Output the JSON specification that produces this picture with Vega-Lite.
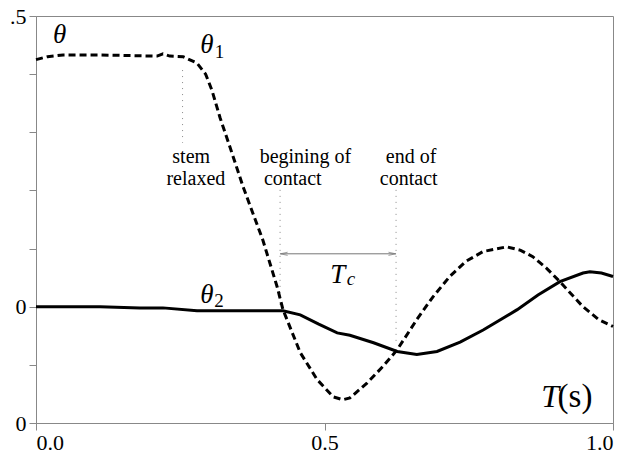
{
  "$schema": "https://vega.github.io/schema/vega-lite/v6.json",
  "width": 577,
  "height": 407,
  "autosize": {"type": "none"},
  "padding": {"left": 36, "top": 16, "right": 10, "bottom": 37},
  "background": "white",
  "config": {
    "font": "serif",
    "view": {"stroke": "#888", "strokeWidth": 1},
    "axis": {"grid": false, "domainColor": "#888", "tickColor": "#888", "labelFont": "serif", "labelFontSize": 22, "labelColor": "black", "title": null, "tickSize": 7}
  },
  "datasets": {
    "theta1": [
      {"t": 0.0, "v": 0.425}, {"t": 0.02, "v": 0.430}, {"t": 0.047, "v": 0.433}, {"t": 0.111, "v": 0.433},
      {"t": 0.16, "v": 0.432}, {"t": 0.21, "v": 0.431}, {"t": 0.22, "v": 0.435}, {"t": 0.232, "v": 0.431},
      {"t": 0.255, "v": 0.430}, {"t": 0.279, "v": 0.419}, {"t": 0.294, "v": 0.400}, {"t": 0.305, "v": 0.372},
      {"t": 0.319, "v": 0.325}, {"t": 0.336, "v": 0.275}, {"t": 0.359, "v": 0.206}, {"t": 0.393, "v": 0.115},
      {"t": 0.418, "v": 0.034}, {"t": 0.428, "v": -0.005}, {"t": 0.458, "v": -0.079}, {"t": 0.487, "v": -0.125},
      {"t": 0.515, "v": -0.155}, {"t": 0.532, "v": -0.160}, {"t": 0.544, "v": -0.157}, {"t": 0.574, "v": -0.131},
      {"t": 0.601, "v": -0.103}, {"t": 0.626, "v": -0.074}, {"t": 0.660, "v": -0.022}, {"t": 0.688, "v": 0.017},
      {"t": 0.717, "v": 0.052}, {"t": 0.745, "v": 0.078}, {"t": 0.775, "v": 0.095}, {"t": 0.816, "v": 0.103},
      {"t": 0.840, "v": 0.097}, {"t": 0.861, "v": 0.086}, {"t": 0.885, "v": 0.066}, {"t": 0.908, "v": 0.043},
      {"t": 0.948, "v": 0.0}, {"t": 0.975, "v": -0.022}, {"t": 1.0, "v": -0.034}
    ],
    "theta2": [
      {"t": 0.0, "v": 0.0}, {"t": 0.111, "v": 0.0}, {"t": 0.18, "v": -0.002}, {"t": 0.22, "v": -0.002},
      {"t": 0.279, "v": -0.007}, {"t": 0.428, "v": -0.007}, {"t": 0.458, "v": -0.014}, {"t": 0.49, "v": -0.030},
      {"t": 0.522, "v": -0.045}, {"t": 0.544, "v": -0.049}, {"t": 0.585, "v": -0.062}, {"t": 0.626, "v": -0.077},
      {"t": 0.660, "v": -0.082}, {"t": 0.695, "v": -0.077}, {"t": 0.735, "v": -0.061}, {"t": 0.775, "v": -0.040},
      {"t": 0.834, "v": -0.005}, {"t": 0.870, "v": 0.020}, {"t": 0.908, "v": 0.043}, {"t": 0.948, "v": 0.058},
      {"t": 0.960, "v": 0.060}, {"t": 0.980, "v": 0.058}, {"t": 1.0, "v": 0.052}
    ],
    "guides": [
      {"t": 0.254, "v1": 0.407, "v2": 0.282},
      {"t": 0.423, "v1": 0.201, "v2": -0.005},
      {"t": 0.624, "v1": 0.201, "v2": -0.065}
    ],
    "notes": [
      {"t": 0.269, "v": 0.247, "label": "stem"},
      {"t": 0.277, "v": 0.210, "label": "relaxed"},
      {"t": 0.467, "v": 0.247, "label": "begining of"},
      {"t": 0.445, "v": 0.210, "label": "contact"},
      {"t": 0.650, "v": 0.247, "label": "end of"},
      {"t": 0.646, "v": 0.210, "label": "contact"}
    ],
    "bigItalic": [
      {"t": 0.041, "v": 0.454, "label": "θ"},
      {"t": 0.296, "v": 0.436, "label": "θ"},
      {"t": 0.296, "v": 0.007, "label": "θ"},
      {"t": 0.523, "v": 0.041, "label": "T"}
    ],
    "subs": [
      {"t": 0.318, "v": 0.428, "label": "1"},
      {"t": 0.317, "v": 0.0, "label": "2"}
    ],
    "subItalic": [
      {"t": 0.546, "v": 0.038, "label": "c"}
    ],
    "axisT": [
      {"t": 0.891, "v": -0.172, "label": "T"}
    ],
    "axisS": [
      {"t": 0.904, "v": -0.172, "label": "(s)"}
    ],
    "arrow": [
      {"t1": 0.423, "t2": 0.624, "v": 0.091}
    ],
    "heads": [
      {"t": 0.430, "v": 0.091, "side": "L"},
      {"t": 0.617, "v": 0.091, "side": "R"}
    ]
  },
  "layer": [
    {
      "data": {"name": "guides"},
      "mark": {"type": "rule", "color": "#888", "strokeWidth": 1, "strokeDash": [1, 5]},
      "encoding": {
        "x": {"field": "t", "type": "quantitative", "scale": {"domain": [0, 1], "nice": false, "zero": false},
              "axis": {"values": [0, 0.5, 1], "format": ".1f", "labelPadding": 2}},
        "y": {"field": "v1", "type": "quantitative", "scale": {"domain": [-0.2, 0.5], "nice": false, "zero": false},
              "axis": {"values": [-0.2, -0.1, 0, 0.1, 0.2, 0.3, 0.4, 0.5], "labelExpr": "datum.value == 0.5 ? '.5' : (abs(datum.value) < 1e-9 ? '0' : (datum.value < -0.15 ? '0' : ''))", "labelPadding": 3}},
        "y2": {"field": "v2"}
      }
    },
    {
      "data": {"name": "arrow"},
      "mark": {"type": "rule", "color": "#777", "strokeWidth": 1},
      "encoding": {
        "x": {"field": "t1", "type": "quantitative"},
        "x2": {"field": "t2"},
        "y": {"field": "v", "type": "quantitative"}
      }
    },
    {
      "data": {"name": "heads"},
      "mark": {"type": "point", "filled": false, "stroke": "#777", "strokeWidth": 1, "size": 50},
      "encoding": {
        "x": {"field": "t", "type": "quantitative"},
        "y": {"field": "v", "type": "quantitative"},
        "shape": {"field": "side", "type": "nominal", "legend": null,
                  "scale": {"domain": ["L", "R"], "range": ["M1,-0.45L-1,0L1,0.45", "M-1,-0.45L1,0L-1,0.45"]}}
      }
    },
    {
      "data": {"name": "theta1"},
      "mark": {"type": "line", "color": "black", "strokeWidth": 3, "strokeDash": [7, 4]},
      "encoding": {
        "x": {"field": "t", "type": "quantitative"},
        "y": {"field": "v", "type": "quantitative"}
      }
    },
    {
      "data": {"name": "theta2"},
      "mark": {"type": "line", "color": "black", "strokeWidth": 3},
      "encoding": {
        "x": {"field": "t", "type": "quantitative"},
        "y": {"field": "v", "type": "quantitative"}
      }
    },
    {
      "data": {"name": "notes"},
      "mark": {"type": "text", "font": "serif", "fontSize": 20, "align": "center", "baseline": "alphabetic", "color": "black"},
      "encoding": {
        "x": {"field": "t", "type": "quantitative"},
        "y": {"field": "v", "type": "quantitative"},
        "text": {"field": "label"}
      }
    },
    {
      "data": {"name": "bigItalic"},
      "mark": {"type": "text", "font": "serif", "fontSize": 27, "fontStyle": "italic", "align": "center", "baseline": "alphabetic", "color": "black"},
      "encoding": {
        "x": {"field": "t", "type": "quantitative"},
        "y": {"field": "v", "type": "quantitative"},
        "text": {"field": "label"}
      }
    },
    {
      "data": {"name": "subs"},
      "mark": {"type": "text", "font": "serif", "fontSize": 19, "align": "center", "baseline": "alphabetic", "color": "black"},
      "encoding": {
        "x": {"field": "t", "type": "quantitative"},
        "y": {"field": "v", "type": "quantitative"},
        "text": {"field": "label"}
      }
    },
    {
      "data": {"name": "subItalic"},
      "mark": {"type": "text", "font": "serif", "fontSize": 19, "fontStyle": "italic", "align": "center", "baseline": "alphabetic", "color": "black"},
      "encoding": {
        "x": {"field": "t", "type": "quantitative"},
        "y": {"field": "v", "type": "quantitative"},
        "text": {"field": "label"}
      }
    },
    {
      "data": {"name": "axisT"},
      "mark": {"type": "text", "font": "serif", "fontSize": 32, "fontStyle": "italic", "align": "center", "baseline": "alphabetic", "color": "black"},
      "encoding": {
        "x": {"field": "t", "type": "quantitative"},
        "y": {"field": "v", "type": "quantitative"},
        "text": {"field": "label"}
      }
    },
    {
      "data": {"name": "axisS"},
      "mark": {"type": "text", "font": "serif", "fontSize": 33, "align": "left", "baseline": "alphabetic", "color": "black"},
      "encoding": {
        "x": {"field": "t", "type": "quantitative"},
        "y": {"field": "v", "type": "quantitative"},
        "text": {"field": "label"}
      }
    }
  ]
}
